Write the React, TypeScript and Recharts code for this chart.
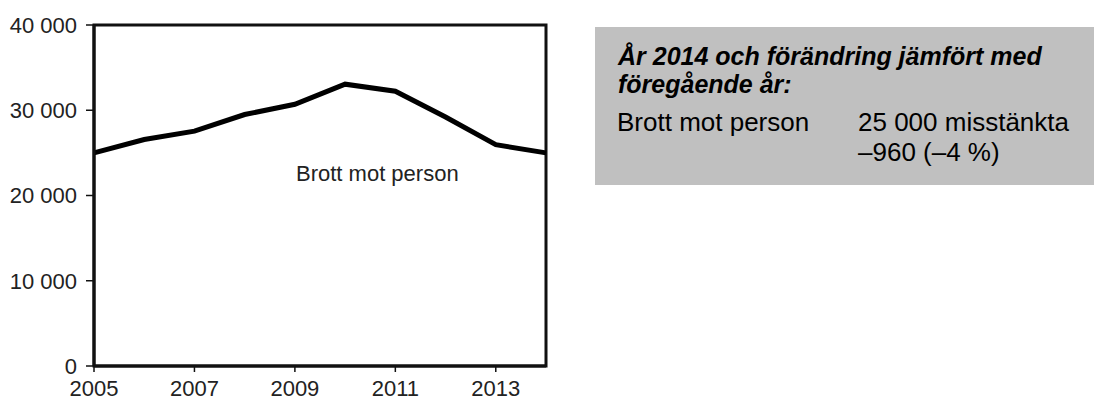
import { LineChart, Line, XAxis, YAxis, ReferenceArea } from 'recharts';

const years = [2005, 2006, 2007, 2008, 2009, 2010, 2011, 2012, 2013, 2014];
const suspects = [25000, 26570, 27550, 29500, 30700, 33060, 32240, 29200, 25960, 25000];
const xTicks = [2005, 2007, 2009, 2011, 2013];
const yTicks = [0, 10000, 20000, 30000, 40000];

const seriesLabel = 'Brott mot person';
const boxTitle = ['År 2014 och förändring jämfört med', 'föregående år:'];
const boxValue = ['25 000 misstänkta', '–960 (–4 %)'];

const data = years.map((year, i) => ({ year, value: suspects[i] }));

const font = '"Liberation Sans", Arial, sans-serif';
const fmt = (v: number) => String(v).replace(/\B(?=(\d{3})+(?!\d))/g, ' ');

export default function App() {
  return (
    <div style={{ position: 'fixed', left: 0, top: 0, width: 1094, height: 401, background: '#fff', fontFamily: font }}>
      <LineChart width={560} height={401} data={data} margin={{ top: 25, right: 14, bottom: 0, left: 0 }}>
        <XAxis
          dataKey="year"
          type="number"
          domain={[2005, 2014]}
          ticks={xTicks}
          height={35}
          tickSize={6}
          tickMargin={8}
          axisLine={{ stroke: '#111', strokeWidth: 3 }}
          tickLine={{ stroke: '#111', strokeWidth: 1.5 }}
          tick={{ fill: '#222', fontSize: 22, fontFamily: font }}
        />
        <YAxis
          domain={[0, 40000]}
          ticks={yTicks}
          width={94}
          tickSize={8}
          tickMargin={9}
          tickFormatter={fmt}
          axisLine={{ stroke: '#111', strokeWidth: 3 }}
          tickLine={{ stroke: '#111', strokeWidth: 1.5 }}
          tick={{ fill: '#222', fontSize: 22, fontFamily: font }}
        />
        <ReferenceArea x1={2005} x2={2014} y1={0} y2={40000} fill="none" stroke="#111" strokeWidth={3} fillOpacity={0} />
        <Line
          type="linear"
          dataKey="value"
          stroke="#000"
          strokeWidth={5}
          dot={false}
          isAnimationActive={false}
        />
      </LineChart>
      <svg width={1094} height={401} style={{ position: 'absolute', left: 0, top: 0, pointerEvents: 'none' }}>
        <text x={296} y={181} fontSize={22} fill="#222" fontFamily={font}>{seriesLabel}</text>
        <rect x={595} y={27} width={499} height={158} fill="#c0c0c0" />
        {boxTitle.map((t, i) => (
          <text key={t} x={618} y={65 + i * 28} fontSize={25} fontWeight="bold" fontStyle="italic" fill="#000" fontFamily={font}>
            {t}
          </text>
        ))}
        <text x={617} y={131} fontSize={26} fill="#000" fontFamily={font}>{seriesLabel}</text>
        {boxValue.map((t, i) => (
          <text key={t} x={858} y={131 + i * 30} fontSize={26} fill="#000" fontFamily={font}>
            {t}
          </text>
        ))}
      </svg>
    </div>
  );
}
